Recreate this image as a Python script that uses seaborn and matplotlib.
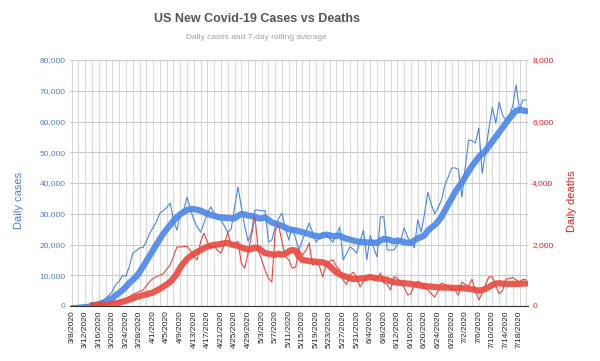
import numpy as np
import pandas as pd
import matplotlib
matplotlib.use("Agg")
import matplotlib.pyplot as plt
import seaborn as sns

# ---------------- data ----------------
dates = pd.date_range("2020-03-08", periods=135, freq="D")
date_labels = [f"{d.month}/{d.day}/{d.year}" for d in dates]

daily_cases = [
    100, 150, 250, 350, 450, 600, 700, 800, 1100, 1600,
    2500, 3500, 4800, 7000, 8000, 10000, 9700, 13000, 17200, 17900,
    18900, 19000, 21000, 23700, 25500, 27500, 30200, 31000, 32000, 33500,
    28000, 24700, 30000, 31200, 35400, 31500, 28000, 25700, 24000, 27000,
    30200, 32200, 30000, 28500, 28000, 26000, 24000, 25000, 32000, 38700,
    32200, 26000, 21000, 24000, 31200, 31200, 31000, 31000, 20800, 21500,
    25700, 28500, 30200, 25000, 21500, 25700, 22000, 18200, 21500, 24000,
    27000, 24000, 20800, 22000, 23700, 23000, 22000, 20800, 23000, 25700,
    15000, 17000, 19200, 18500, 17200, 21000, 24700, 15000, 23000, 19000,
    16000, 29000, 29000, 18200, 18200, 18200, 20000, 21500, 25400, 22400,
    21000, 18900, 28000, 24000, 30000, 37000, 33000, 30000, 32000, 34500,
    39300, 42000, 44900, 44900, 44500, 35400, 45000, 54000, 53800, 53000,
    57900, 43200, 50000, 58000, 64700, 59500, 66300, 62000, 60500, 62000,
    65000, 71900, 63700, 67000, 67000,
]

avg_cases = [np.nan] * 6 + [
    300, 400, 600, 1000, 1400, 2000, 2600, 3500, 4300, 5200,
    6300, 7500, 8500, 9500, 11000, 12800, 14600, 16400, 18200, 20000,
    21800, 23500, 25000, 26300, 27700, 28900, 29800, 30600, 31200, 31500,
    31500, 31300, 31000, 30500, 30000, 29600, 29300, 29000, 28800, 28700,
    28600, 28500, 28500, 29300, 29900, 29800, 29400, 29300, 29000, 28500,
    28500, 28800, 28000, 27200, 26800, 26500, 26000, 25500, 25000, 24700,
    24600, 24300, 24000, 23700, 23400, 23000, 22800, 22600, 23000, 23200,
    23000, 22700, 22800, 22900, 22300, 21900, 21600, 21300, 21000, 20900,
    20800, 20700, 20600, 20600, 20500, 21300, 21800, 21700, 21400, 21000,
    21300, 21100, 20700, 20600, 20500, 21300, 22000, 22400, 23000, 24500,
    25500, 26300, 27500, 29000, 31000, 33000, 35000, 37000, 38700, 40000,
    42000, 43800, 45500, 47000, 48500, 49500, 50500, 52000, 53500, 55000,
    56500, 58000, 59500, 61000, 62300, 63500, 63800, 63600, 63400,
]

daily_deaths = [
    0, 0, 5, 5, 10, 10, 15, 20, 30, 40,
    50, 60, 100, 120, 150, 200, 250, 300, 380, 420,
    480, 520, 650, 800, 900, 950, 1000, 1050, 1200, 1330,
    1600, 1920, 1920, 1930, 1950, 1800, 1600, 1500, 2100, 2370,
    2080, 1900, 1950, 1800, 1720, 2000, 2400, 1980, 2050, 2100,
    1400, 1230, 1720, 2300, 2900, 1800, 1500, 1170, 900, 780,
    2470, 2630, 2080, 1600, 1500, 1230, 1270, 1820, 1660, 1800,
    2050, 1330, 1400, 1300, 950, 1330, 1450, 1500, 1300, 1170,
    850, 700, 1000, 1100, 950, 620, 800, 950, 1000, 850,
    900, 1070, 750, 700, 520, 950, 900, 780, 600, 360,
    400, 700, 800, 750, 600, 520, 400, 290, 500, 750,
    700, 650, 550, 520, 350, 780, 700, 650, 870, 500,
    200, 420, 700, 950, 950, 650, 400, 500, 870, 900,
    930, 850, 780, 870, 850,
]

avg_deaths = [np.nan] * 6 + [
    20, 25, 30, 40, 50, 60, 75, 90, 110, 140,
    170, 210, 250, 290, 320, 350, 380, 410, 440, 500,
    560, 630, 700, 780, 900, 1050, 1250, 1400, 1530, 1620,
    1700, 1760, 1820, 1880, 1930, 1960, 1990, 2000, 2020, 2040,
    2050, 2000, 1980, 1960, 1900, 1870, 1830, 1860, 1900, 1880,
    1800, 1720, 1700, 1680, 1660, 1700, 1670, 1700, 1780, 1820,
    1800, 1600, 1500, 1480, 1460, 1450, 1440, 1430, 1420, 1380,
    1300, 1200, 1100, 1030, 980, 950, 900, 880, 880, 890,
    900, 920, 940, 920, 900, 890, 870, 850, 800, 780,
    760, 750, 740, 730, 720, 700, 680, 660, 650, 640,
    630, 620, 610, 600, 600, 600, 590, 590, 590, 580,
    570, 560, 550, 520, 500, 520, 560, 620, 680, 730,
    740, 730, 720, 720, 720, 720, 720, 730, 730,
]

df = pd.DataFrame({
    "day": np.arange(len(dates)),
    "daily_cases": daily_cases,
    "avg_cases": avg_cases,
    "daily_deaths": daily_deaths,
    "avg_deaths": avg_deaths,
})

# ---------------- style ----------------
sns.set_theme(style="white")
plt.rcParams["font.family"] = ["Liberation Sans", "DejaVu Sans"]

BLUE = "#4a86e8"
RED = "#e8483d"
BLUE_TXT = "#4a7fe0"
RED_TXT = "#e0251b"

fig = plt.figure(figsize=(6.0, 3.61), dpi=100)
W, H = 600, 361
L, R, T, B = 70, 528, 60, 306
ax = fig.add_axes([L / W, 1 - B / H, (R - L) / W, (B - T) / H])
ax2 = ax.twinx()

sns.lineplot(data=df, x="day", y="daily_cases", ax=ax, color=BLUE, linewidth=0.8)
sns.lineplot(data=df, x="day", y="avg_cases", ax=ax, color=BLUE, linewidth=4.5, alpha=0.9)
sns.lineplot(data=df, x="day", y="daily_deaths", ax=ax2, color=RED, linewidth=0.8)
sns.lineplot(data=df, x="day", y="avg_deaths", ax=ax2, color=RED, linewidth=4.5, alpha=0.9)

n = len(dates)
ax.set_xlim(-0.5, n - 0.5)
ax.set_ylim(0, 80000)
ax2.set_ylim(0, 8000)

# grid
ax.set_yticks(np.arange(0, 80001, 10000))
ax.set_yticklabels([f"{v:,}" for v in range(0, 80001, 10000)], fontsize=6, color=BLUE_TXT)
ax2.set_yticks(np.arange(0, 8001, 2000))
ax2.set_yticklabels([f"{v:,}" for v in range(0, 8001, 2000)], fontsize=6, color=RED_TXT)
ax.set_xticks(np.arange(0, n, 4))
ax.set_xticklabels(date_labels[::4], rotation=90, fontsize=6, color="#222222")
ax.set_xticks(np.arange(0, n, 2), minor=True)
ax.grid(True, which="major", axis="y", color="#cccccc", linewidth=0.8)
ax.grid(True, which="both", axis="x", color="#d9d9d9", linewidth=0.8)
ax.set_axisbelow(True)
ax.tick_params(axis="both", which="both", length=0, pad=3)
ax2.tick_params(axis="both", which="both", length=0, pad=3)
ax2.grid(False)

for a in (ax, ax2):
    for s in ["top", "left", "right"]:
        a.spines[s].set_visible(False)
    a.spines["bottom"].set_color("#333333")
    a.spines["bottom"].set_linewidth(0.8)
ax2.spines["bottom"].set_visible(False)

ax.set_xlabel("")
ax.set_ylabel("")
ax2.set_ylabel("")

fig.text(19 / W, 1 - 200 / H, "Daily cases", rotation=90, ha="center", va="center",
         fontsize=8, color=BLUE_TXT)
fig.text(572 / W, 1 - 201 / H, "Daily deaths", rotation=90, ha="center", va="center",
         fontsize=8, color=RED_TXT)
fig.text(256.5 / W, 1 - 19 / H, "US New Covid-19 Cases vs Deaths", ha="center", va="center",
         fontsize=9, fontweight="bold", color="#555555")
fig.text(256.5 / W, 1 - 37.7 / H, "Daily cases and 7-day rolling average", ha="center",
         va="center", fontsize=6, color="#9e9e9e")

fig.savefig("out.png", dpi=100, facecolor="white")
